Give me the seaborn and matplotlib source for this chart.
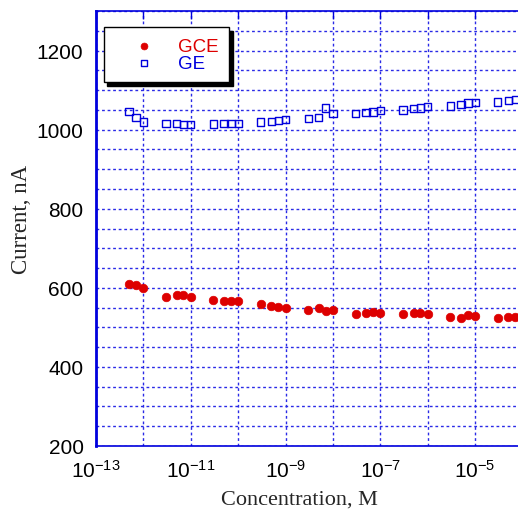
import numpy as np
import pandas as pd
import matplotlib
matplotlib.use("Agg")
import matplotlib.pyplot as plt
import seaborn as sns
from matplotlib.ticker import FixedLocator, FuncFormatter, MultipleLocator

# --- data --------------------------------------------------------------------
conc = [5e-13, 7e-13, 1e-12,
        3e-12, 5e-12, 7e-12, 1e-11,
        3e-11, 5e-11, 7e-11, 1e-10,
        3e-10, 5e-10, 7e-10, 1e-9,
        3e-9, 5e-9, 7e-9, 1e-8,
        3e-8, 5e-8, 7e-8, 1e-7,
        3e-7, 5e-7, 7e-7, 1e-6,
        3e-6, 5e-6, 7e-6, 1e-5,
        3e-5, 5e-5, 7e-5]
gce_current = [610, 608, 600,
               578, 581, 581, 576,
               568, 566, 566, 566,
               558, 553, 552, 549,
               544, 548, 542, 544,
               534, 537, 539, 536,
               534, 536, 536, 534,
               527, 524, 531, 529,
               524, 527, 527]
ge_current = [1046, 1030, 1019,
              1016, 1016, 1013, 1013,
              1014, 1016, 1016, 1016,
              1019, 1021, 1023, 1026,
              1028, 1031, 1055, 1040,
              1041, 1043, 1045, 1048,
              1050, 1053, 1055, 1058,
              1060, 1063, 1067, 1068,
              1070, 1073, 1077]
series_names = ["GCE", "GE"]

df = pd.DataFrame({
    "conc": conc * 2,
    "current": gce_current + ge_current,
    "electrode": [series_names[0]] * len(conc) + [series_names[1]] * len(conc),
})

sns.set_theme(style="white")
plt.rcParams["font.family"] = ["Liberation Sans", "DejaVu Sans"]
plt.rcParams["mathtext.fontset"] = "custom"
plt.rcParams["mathtext.rm"] = "Liberation Sans"
plt.rcParams["mathtext.default"] = "regular"

BLUE = "#0000dd"
GRID_BLUE = "#2a2ae6"
RED = "#dd0000"

fig = plt.figure(figsize=(5.18, 5.10), dpi=100)
ax = fig.add_axes([96 / 518, 63 / 510, 1 - 96 / 518, 435 / 510])

gce = df[df["electrode"] == "GCE"]
ge = df[df["electrode"] == "GE"]
sns.scatterplot(data=gce, x="conc", y="current", ax=ax, marker="o", s=38,
                color=RED, edgecolor=RED, linewidth=0.5, label="GCE", zorder=3)
sns.scatterplot(data=ge, x="conc", y="current", ax=ax, marker="s", s=28,
                facecolor="none", edgecolor=BLUE, linewidth=1.0, label="GE", zorder=3)

ax.set_xscale("log")
ax.set_xlim(1e-13, 10 ** -4.097)
ax.set_ylim(200, 1300)

# ticks and grid
decades = [10.0 ** e for e in range(-13, -3)]
ax.xaxis.set_major_locator(FixedLocator(decades))
ax.xaxis.set_minor_locator(FixedLocator([]))
ax.xaxis.set_major_formatter(FuncFormatter(
    lambda v, p: r"$10^{%d}$" % round(np.log10(v)) if round(np.log10(v)) % 2 else ""))
ax.yaxis.set_major_locator(MultipleLocator(200))
ax.yaxis.set_minor_locator(MultipleLocator(50))

grid_style = dict(color=GRID_BLUE, linestyle=(0, (2, 2)), linewidth=1.0)
ax.grid(True, axis="x", which="major", **grid_style)
ax.grid(True, axis="y", which="both", **grid_style)
ax.set_axisbelow(True)

ax.tick_params(axis="both", which="major", direction="in", length=6, width=1,
               color=BLUE, labelsize=15, labelcolor="black", top=True, pad=9)
ax.tick_params(axis="y", which="minor", direction="in", length=3, width=1, color=BLUE)

for side in ["left", "bottom", "top"]:
    ax.spines[side].set_color(BLUE)
    ax.spines[side].set_linewidth(1.2)
ax.spines["left"].set_linewidth(2)
ax.spines["right"].set_visible(False)

ax.set_xlabel("Concentration, M", family=["Liberation Serif"], fontsize=16)
ax.set_ylabel("Current, nA", family=["Liberation Serif"], fontsize=16.5)
ax.xaxis.set_label_coords(0.483, -0.099, transform=ax.transAxes)
ax.yaxis.set_label_coords(-0.152, 0.522, transform=ax.transAxes)

leg = ax.legend(loc="upper left", bbox_to_anchor=(0.019, 0.963), borderaxespad=0,
                frameon=True, fancybox=False, fontsize=13.5, markerscale=0.8,
                shadow={"ox": 2.5, "oy": -2.5, "color": "black", "alpha": 1},
                borderpad=0.56, handletextpad=0.25, handlelength=3.15, labelspacing=0.0)
leg.get_frame().set_edgecolor("black")
leg.get_frame().set_linewidth(1.0)
leg.get_frame().set_alpha(1)
for txt, col in zip(leg.get_texts(), [RED, BLUE]):
    txt.set_color(col)

fig.savefig("out.png", dpi=100)
